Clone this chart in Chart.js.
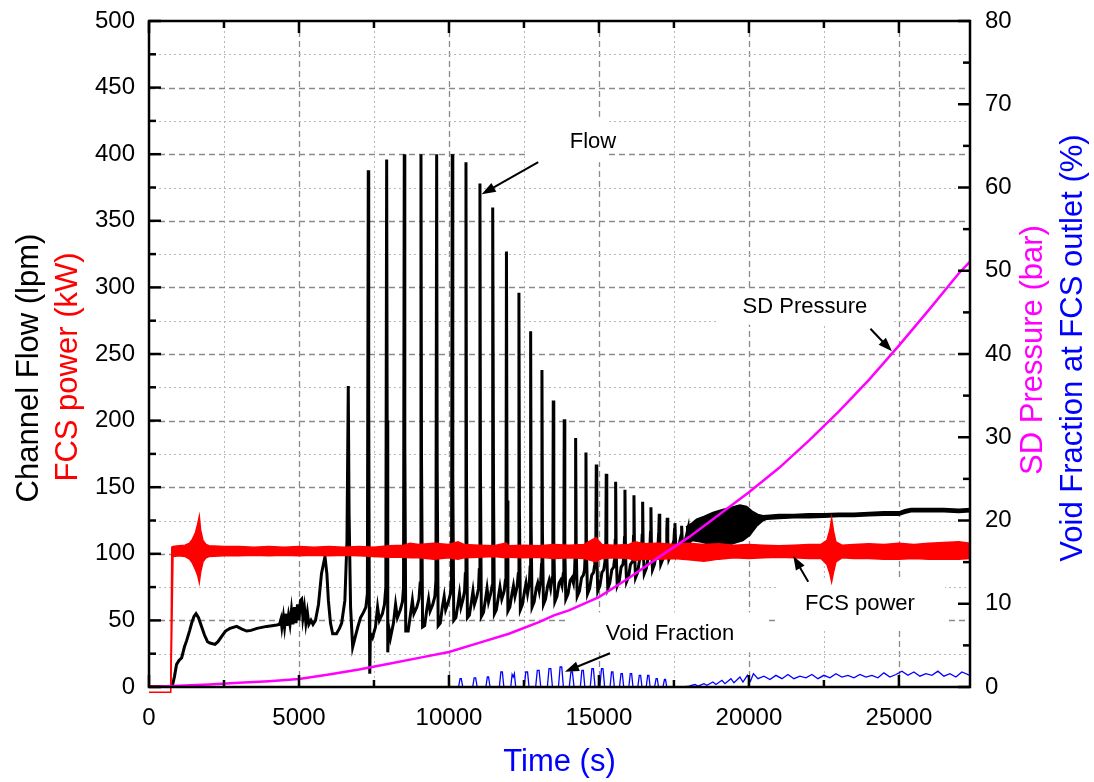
<!DOCTYPE html>
<html><head><meta charset="utf-8">
<script src="https://cdn.jsdelivr.net/npm/chart.js@4.4.0/dist/chart.umd.min.js"></script>
<style>html,body{margin:0;padding:0;background:#fff;}canvas{display:block;}</style>
</head><body>
<canvas id="c" width="1094" height="782"></canvas>
<script>
// ---------- tick labels ----------
const timeTicks = [0, 5000, 10000, 15000, 20000, 25000];
const flowTicks = [0, 50, 100, 150, 200, 250, 300, 350, 400, 450, 500];
const pressureTicks = [0, 10, 20, 30, 40, 50, 60, 70, 80];

// ---------- series: [time (s), value] ----------
// Channel flow (lpm), left axis
const flow = [
[0,0],[700,0],[780,1],[850,8],[920,17],[1000,20],[1090,22],[1180,30],[1257,35],[1350,42],[1423,48],[1500,53],[1567,55],[1650,52],[1757,45],[1850,39],[1950,34],[2033,33],[2200,32],[2300,34],[2423,38],[2550,42],[2700,44],[2923,45.5],[3100,43.5],[3257,42],[3400,42.5],[3600,44],[3923,45.5],[4100,46],[4257,46.5],
[4350,47],[4400,51],[4430,45],[4480,53],[4520,45],[4570,55],[4600,46],[4650,54],[4700,47],[4750,58],[4800,47],[4850,60],[4900,48],[4950,62],[5000,50],[5050,65],[5090,66],[5130,52],[5180,60],[5230,48],[5280,56],[5330,47],[5400,50],[5467,47],[5550,50],[5650,62],[5750,85],[5867,98],[5930,85],[5980,65],[6050,48],[6123,40],[6250,40],[6350,44],[6423,48],[6530,65],[6600,110],
[6643,226],[6670,130],[6720,60],[6790,30],[6880,38],[6960,45],[7050,52],[7150,56],[7230,60],[7280,70],
[7310,388],[7325,217],[7345,60],[7360,10],[7380,40],[7450,37],[7550,45],[7620,60],[7680,50],[7780,55],[7850,62],[7895,75],
[7923,396],[7940,200],[7960,26],[7990,45],[8050,37],[8150,48],[8220,62],[8280,52],[8380,58],[8450,64],[8485,75],
[8510,400],[8528,184],[8560,42],[8640,42],[8720,55],[8780,65],[8830,55],[8930,60],[9000,66],[9040,78],
[9067,400],[9085,171],[9120,45],[9190,46],[9260,58],[9320,66],[9370,57],[9460,62],[9530,68],[9565,80],
[9590,400],[9608,163],[9640,46],[9710,48],[9780,60],[9840,68],[9890,58],[9980,64],[10050,70],[10085,82],
[10110,400],[10128,156],[10160,50],[10230,52],[10300,62],[10350,70],[10400,60],[10470,66],[10520,72],[10545,85],
[10567,394],[10585,155],[10615,52],[10680,54],[10750,64],[10800,72],[10850,62],[10930,68],[10985,74],[11010,88],
[11033,378],[11050,160],[11080,53],[11150,56],[11220,66],[11270,74],[11320,64],[11390,70],[11440,76],[11450,90],
[11467,360],[11485,150],[11515,55],[11580,58],[11650,68],[11700,75],[11760,66],[11840,72],[11880,80],[11900,95],
[11917,327],[11935,140],[11965,57],[12030,60],[12100,70],[12150,76],[12200,68],[12270,75],[12310,85],
[12333,296],[12350,130],[12380,58],[12450,62],[12520,72],[12570,78],[12620,70],[12680,78],[12705,90],
[12723,267],[12740,120],[12770,60],[12840,64],[12910,74],[12960,78],[13010,72],[13060,80],[13085,92],
[13100,238],[13117,115],[13150,62],[13220,66],[13290,76],[13340,80],[13390,74],[13440,82],[13462,95],
[13477,215],[13495,110],[13530,64],[13600,68],[13670,78],[13720,80],[13770,76],[13810,85],[13830,100],
[13843,201],[13862,105],[13895,66],[13970,70],[14040,80],[14100,82],[14150,78],[14190,88],[14208,102],
[14223,187],[14242,105],[14275,68],[14350,72],[14420,82],[14480,84],[14520,88],[14550,104],
[14567,176],[14585,100],[14620,70],[14690,74],[14760,84],[14820,86],[14860,92],[14895,106],
[14910,167],[14928,100],[14960,72],[15030,76],[15100,86],[15160,88],[15200,94],[15228,108],
[15243,160],[15262,100],[15295,74],[15360,78],[15430,88],[15490,90],[15520,96],[15542,110],
[15557,154],[15575,100],[15610,76],[15680,80],[15740,90],[15800,92],[15830,98],[15852,112],
[15867,148],[15885,100],[15920,79],[15990,83],[16050,92],[16110,94],[16135,100],[16152,113],
[16167,144],[16185,102],[16220,82],[16290,86],[16350,95],[16410,98],[16440,114],
[16457,139],[16475,104],[16510,85],[16580,89],[16640,97],[16690,100],[16718,116],
[16733,135],[16750,106],[16785,88],[16850,92],[16910,100],[16960,103],[16995,117],
[17010,130],[17028,108],[17060,92],[17130,96],[17190,104],[17240,107],[17262,118],
[17277,127],[17295,110],[17330,96],[17400,100],[17460,107],[17500,110],[17518,118],
[17533,123],[17550,112],[17585,100],[17650,104],[17700,110],[17740,114],
[17757,121],[17790,104],[17850,108],[17920,114],
[17977,119.5],[18010,108],[18060,110]
];
// dense flow oscillation band (envelopes), left axis
const flowBandUpper = [
[17900,120],[18100,123],[18257,126],[18500,128],[18800,131],[19100,133],[19367,134.5],[19700,136.6],[19923,135.5],[20133,131.6],[20300,129.5],[20467,128.5],[20700,129],[21000,129.5],[21500,129.5],[22000,130],[22500,130],[23000,130.5],[23500,130.5],[24000,131],[24500,131.5],[25000,131.5],[25200,133],[25400,134],[26000,134],[26500,134],[27000,133.5],[27370,134]
];
const flowBandLower = [
[17900,108],[18100,110],[18367,109],[18800,106.6],[19367,107],[19800,110],[20033,114],[20257,120.7],[20450,124.5],[20600,126],[21000,126.5],[21500,127],[22000,127],[22500,127.5],[23000,128],[23500,128],[24000,128.5],[24500,129],[25000,129],[25200,130.5],[25400,131.5],[26000,131.5],[26500,131.5],[27000,131],[27370,131.5]
];
// FCS power (kW), left axis: upper / lower edge of the noisy trace
const powerUpper = [
[0,1],[725,1],[760,105],[800,105.5],[1000,106],[1200,106.5],[1350,108],[1450,111],[1550,116],[1620,122],[1677,128],[1720,118],[1800,110],[1900,107],[2000,106],[2500,105.5],[3000,105.5],[3500,105],[4000,105.5],[4500,105],[5000,105.5],[5500,105],[6000,105.5],[6500,105],[7000,105.5],[7500,105],[8000,106],[8500,106.5],[8700,108],[9000,107],[9500,108],[10000,107],[10300,109],[10500,107],[11000,106.5],[11500,106],[11900,108],[12000,106],[12500,106.5],[13000,106],[13500,107],[14000,106.5],[14500,107],[14900,112],[15100,107],[15500,106.5],[16000,107],[16200,109],[16500,107.5],[17000,108],[17500,107],[18000,108],[18500,107],[19000,107.5],[19500,106.5],[20000,107],[20500,106.5],[21000,106],[21500,106.5],[22000,107],[22400,107],[22600,110],[22700,118],[22757,126.5],[22820,117],[22900,109],[23100,106.5],[23500,107],[24000,107.5],[24500,107],[25000,108],[25500,107],[26000,108],[26500,108.5],[27000,109],[27370,108]
];
const powerLower = [
[0,-4],[725,-4],[760,40],[800,98],[1000,98.5],[1200,98],[1350,96],[1450,93],[1550,88],[1620,84],[1677,78.5],[1720,86],[1800,94],[1900,97],[2000,98],[2500,98.5],[3000,98.5],[3500,99],[4000,98.5],[4500,99],[5000,98.5],[5500,99],[6000,98.5],[6500,99],[7000,98.5],[7500,98],[8000,97.5],[8500,97.5],[8700,97],[9000,97],[9500,96],[10000,97],[10300,96],[10500,97],[11000,97.5],[11500,98],[11900,97],[12000,97.5],[12500,97],[13000,97.5],[13500,96.5],[14000,97],[14500,96.5],[14900,94],[15100,96.5],[15500,97],[16000,96.5],[16200,95],[16500,96],[17000,96],[17500,96.5],[18000,95.5],[18500,94.5],[19000,96],[19500,97],[20000,96.5],[20500,97],[21000,97.5],[21500,97],[22000,96.5],[22400,96.5],[22600,92],[22700,85],[22757,79],[22820,86],[22900,94],[23100,97],[23500,96.5],[24000,96.5],[24500,96],[25000,96],[25500,96.5],[26000,96],[26500,96],[27000,96],[27370,96.5]
];
// SD pressure (bar), right axis
const pressure = [
[0,0],[1000,0.15],[2000,0.3],[3000,0.5],[4000,0.7],[5000,0.95],[6000,1.5],[7000,2.1],[8000,2.8],[9000,3.5],[10000,4.2],[11000,5.3],[12000,6.4],[13000,7.8],[13500,8.6],[14000,9.2],[15000,10.8],[16000,13.1],[17000,15.6],[18000,18.0],[19000,20.7],[20000,23.4],[21000,26.3],[22000,29.6],[23000,33.1],[24000,36.9],[25000,41.0],[26000,45.3],[27000,49.7],[27370,51.1]
];
// void fraction at FCS outlet (%), right axis
const voidFraction = [
[0,0],[10320,0],[10370,1.0],[10410,1.0],[10460,0],[10790,0],[10840,1.1],[10890,1.1],[10940,0],[11230,0],[11280,1.2],[11320,1.2],[11370,0],[11680,0],[11730,1.8],[11780,1.8],[11830,0],[12060,0],[12105,1.5],[12143,1.2],[12180,1.6],[12225,0],[12510,0],[12560,1.8],[12620,1.8],[12670,0],[12890,0],[12945,2.0],[13005,2.0],[13060,0],[13280,0],[13335,2.2],[13395,2.2],[13450,0],[13650,0],[13705,2.4],[13760,2.4],[13815,0],[14010,0],[14065,1.8],[14115,1.8],[14170,0],[14380,0],[14430,2.0],[14480,2.0],[14530,0],[14710,0],[14765,2.2],[14815,2.2],[14870,0],[15030,0],[15085,2.2],[15135,2.2],[15190,0],[15370,0],[15420,1.8],[15465,1.8],[15515,0],[15685,0],[15735,1.6],[15780,1.6],[15825,0],[15995,0],[16045,1.6],[16090,1.6],[16135,0],[16295,0],[16345,1.4],[16390,1.4],[16435,0],[16575,0],[16625,1.4],[16665,1.4],[16705,0],[16855,0],[16905,1.0],[16945,1.0],[16985,0],[17135,0],[17185,0.9],[17220,0.9],[17260,0],[17800,0],
[18000,0.1],[18200,0.3],[18300,0.1],[18500,0.4],[18600,0.2],[18800,0.6],[18900,0.3],[19100,0.8],[19200,0.4],[19400,1.0],[19500,0.5],[19700,1.2],[19800,0.6],[19950,1.4],[20050,0.7],[20150,1.6],[20300,1.0],[20500,1.3],[20700,0.9],[20900,1.4],[21100,1.0],[21300,1.5],[21500,1.0],[21700,1.3],[21900,1.1],[22100,1.5],[22300,1.0],[22500,1.4],[22700,1.1],[22900,1.6],[23100,1.2],[23300,1.4],[23500,1.1],[23700,1.5],[23900,1.2],[24100,1.4],[24300,1.1],[24500,1.7],[24700,1.2],[24900,1.5],[25100,1.9],[25300,1.4],[25500,1.8],[25700,1.3],[25900,1.6],[26100,1.4],[26300,1.9],[26500,1.3],[26700,1.6],[26900,1.2],[27100,1.8],[27370,1.4]
];

// annotations in data units (time, left-axis value)
const notes = [
  {text:'Flow',          at:[14800,409],  box:[12600,15300,428,394], arrow:[12977,394,11090,370]},
  {text:'SD Pressure',   at:[21867,285],  box:[18967,24800,298,272], arrow:[24050,269,24767,252]},
  {text:'FCS power',     at:[23700,62],   box:[20967,26533,80,43],   arrow:[21977,79,21477,98.4]},
  {text:'Void Fraction', at:[17367,40],   box:[13967,20600,56,26],   arrow:[15367,25.3,13867,11.5]}
];

const FONT = '"Liberation Sans", Arial, Helvetica, sans-serif';
const toXY = arr => arr.map(p => ({x: p[0], y: p[1]}));

function arrow(ctx, x1, y1, x2, y2) {
  const a = Math.atan2(y2 - y1, x2 - x1), L = 14, W = 5;
  ctx.beginPath(); ctx.moveTo(x1, y1);
  ctx.lineTo(x2 - Math.cos(a) * L * 0.7, y2 - Math.sin(a) * L * 0.7); ctx.stroke();
  ctx.beginPath(); ctx.moveTo(x2, y2);
  ctx.lineTo(x2 - L * Math.cos(a) + W * Math.sin(a), y2 - L * Math.sin(a) - W * Math.cos(a));
  ctx.lineTo(x2 - L * Math.cos(a) - W * Math.sin(a), y2 - L * Math.sin(a) + W * Math.cos(a));
  ctx.closePath(); ctx.fill();
}

const decor = {
  id: 'decor',
  beforeDatasetsDraw(chart) {
    const {ctx, chartArea: ca, scales: {x, y}} = chart;
    ctx.save();
    for (let v = 2500; v < x.max; v += 2500) {
      const px = Math.round(x.getPixelForValue(v)) + 0.5;
      const major = v % 5000 === 0;
      ctx.strokeStyle = major ? '#8a8a8a' : '#b8b8b8';
      ctx.lineWidth = major ? 1.3 : 1;
      ctx.setLineDash(major ? [6, 4] : [2, 3]);
      ctx.beginPath(); ctx.moveTo(px, ca.top); ctx.lineTo(px, ca.bottom); ctx.stroke();
    }
    for (let v = 25; v < y.max; v += 25) {
      const py = Math.round(y.getPixelForValue(v)) + 0.5;
      const major = v % 50 === 0;
      ctx.strokeStyle = major ? '#8a8a8a' : '#b8b8b8';
      ctx.lineWidth = major ? 1.3 : 1;
      ctx.setLineDash(major ? [6, 4] : [2, 3]);
      ctx.beginPath(); ctx.moveTo(ca.left, py); ctx.lineTo(ca.right, py); ctx.stroke();
    }
    ctx.setLineDash([]);
    ctx.fillStyle = '#fff';
    notes.forEach(n => {
      const x0 = x.getPixelForValue(n.box[0]), x1 = x.getPixelForValue(n.box[1]);
      const y0 = y.getPixelForValue(n.box[2]), y1 = y.getPixelForValue(n.box[3]);
      ctx.fillRect(x0, y0, x1 - x0, y1 - y0);
    });
    ctx.restore();
  },
  afterDatasetsDraw(chart) {
    const {ctx, chartArea: ca, scales: {x, y, y2}} = chart;
    ctx.save();
    ctx.strokeStyle = '#000'; ctx.fillStyle = '#000'; ctx.lineWidth = 2.5;
    for (let v = 0; v <= x.max; v += 2500) {
      const px = x.getPixelForValue(v), len = v % 5000 === 0 ? 12 : 7;
      ctx.beginPath();
      ctx.moveTo(px, ca.bottom); ctx.lineTo(px, ca.bottom - len);
      ctx.moveTo(px, ca.top); ctx.lineTo(px, ca.top + len);
      ctx.stroke();
    }
    for (let v = 0; v <= y.max; v += 25) {
      const py = y.getPixelForValue(v), len = v % 50 === 0 ? 12 : 7;
      ctx.beginPath(); ctx.moveTo(ca.left, py); ctx.lineTo(ca.left + len, py); ctx.stroke();
    }
    for (let v = 0; v <= y2.max; v += 5) {
      const py = y2.getPixelForValue(v), len = v % 10 === 0 ? 12 : 7;
      ctx.beginPath(); ctx.moveTo(ca.right, py); ctx.lineTo(ca.right - len, py); ctx.stroke();
    }
    ctx.strokeRect(ca.left, ca.top, ca.right - ca.left, ca.bottom - ca.top);
    ctx.font = '22px ' + FONT; ctx.textAlign = 'center'; ctx.textBaseline = 'middle';
    ctx.lineWidth = 2;
    notes.forEach(n => {
      ctx.fillText(n.text, x.getPixelForValue(n.at[0]), y.getPixelForValue(n.at[1]));
      arrow(ctx, x.getPixelForValue(n.arrow[0]), y.getPixelForValue(n.arrow[1]),
                 x.getPixelForValue(n.arrow[2]), y.getPixelForValue(n.arrow[3]));
    });
    ctx.restore();
  },
  afterDraw(chart) {
    const {ctx, chartArea: ca} = chart;
    ctx.save();
    ctx.font = '31px ' + FONT; ctx.textAlign = 'center'; ctx.textBaseline = 'middle';
    const rot = (txt, color, cx, cy) => {
      ctx.save(); ctx.translate(cx, cy); ctx.rotate(-Math.PI / 2);
      ctx.fillStyle = color; ctx.fillText(txt, 0, 0); ctx.restore();
    };
    rot('Channel Flow (lpm)', '#000000', 29, 368);
    rot('FCS power (kW)', '#FF0000', 68, 367);
    rot('SD Pressure (bar)', '#FF00FF', 1033, 350);
    rot('Void Fraction at FCS outlet (%)', '#0000FF', 1073, 348);
    ctx.fillStyle = '#0000FF';
    ctx.fillText('Time (s)', (ca.left + ca.right) / 2, 762);
    ctx.restore();
  }
};

const lineBase = {pointRadius: 0, tension: 0, fill: false};
const plain = v => String(v);
const noPadV = s => { s.paddingTop = 0; s.paddingBottom = 0; };
const chart = new Chart(document.getElementById('c'), {
  type: 'line',
  data: {
    datasets: [
      {...lineBase, label: 'SD Pressure', data: toXY(pressure), yAxisID: 'y2', borderColor: '#FF00FF', borderWidth: 2.5, order: 0},
      {...lineBase, label: 'Void Fraction', data: toXY(voidFraction), yAxisID: 'y2', borderColor: '#0000FF', borderWidth: 1.3, order: 1},
      {...lineBase, label: 'FCS power hi', data: toXY(powerUpper), yAxisID: 'y', borderColor: '#FF0000', backgroundColor: '#FF0000', borderWidth: 1.5, fill: 3, order: 2, clip: {left: 0, top: 0, right: 0, bottom: 8}},
      {...lineBase, label: 'FCS power lo', data: toXY(powerLower), yAxisID: 'y', borderColor: '#FF0000', borderWidth: 1.5, order: 3, clip: {left: 0, top: 0, right: 0, bottom: 8}},
      {...lineBase, label: 'Flow', data: toXY(flow), yAxisID: 'y', borderColor: '#000000', borderWidth: 3, order: 4},
      {...lineBase, label: 'Flow band hi', data: toXY(flowBandUpper), yAxisID: 'y', borderColor: '#000000', backgroundColor: '#000000', borderWidth: 1.5, fill: 6, order: 5},
      {...lineBase, label: 'Flow band lo', data: toXY(flowBandLower), yAxisID: 'y', borderColor: '#000000', borderWidth: 1.5, order: 6}
    ]
  },
  options: {
    responsive: false, animation: false, devicePixelRatio: 1,
    layout: {padding: {top: 21, left: 0, right: 0, bottom: 0}},
    plugins: {legend: {display: false}, tooltip: {enabled: false}},
    scales: {
      x: {
        type: 'linear', position: 'bottom', min: 0, max: 27370,
        afterBuildTicks: s => { s.ticks = timeTicks.map(v => ({value: v})); },
        afterFit: s => { s.height = 95; s.paddingLeft = 0; s.paddingRight = 0; },
        grid: {display: false, drawTicks: false}, border: {display: false},
        ticks: {color: '#000', font: {family: FONT, size: 24}, padding: 17, maxRotation: 0, autoSkip: false, callback: plain}
      },
      y: {
        type: 'linear', position: 'left', min: 0, max: 500,
        afterBuildTicks: s => { s.ticks = flowTicks.map(v => ({value: v})); },
        afterFit: s => { s.width = 149; noPadV(s); },
        grid: {display: false, drawTicks: false}, border: {display: false},
        ticks: {color: '#000', font: {family: FONT, size: 24}, padding: 14, autoSkip: false, callback: plain}
      },
      y2: {
        type: 'linear', position: 'right', min: 0, max: 80,
        afterBuildTicks: s => { s.ticks = pressureTicks.map(v => ({value: v})); },
        afterFit: s => { s.width = 124; noPadV(s); },
        grid: {display: false, drawTicks: false}, border: {display: false},
        ticks: {color: '#000', font: {family: FONT, size: 24}, padding: 15, autoSkip: false, callback: plain}
      }
    }
  },
  plugins: [decor]
});
</script>
</body></html>
